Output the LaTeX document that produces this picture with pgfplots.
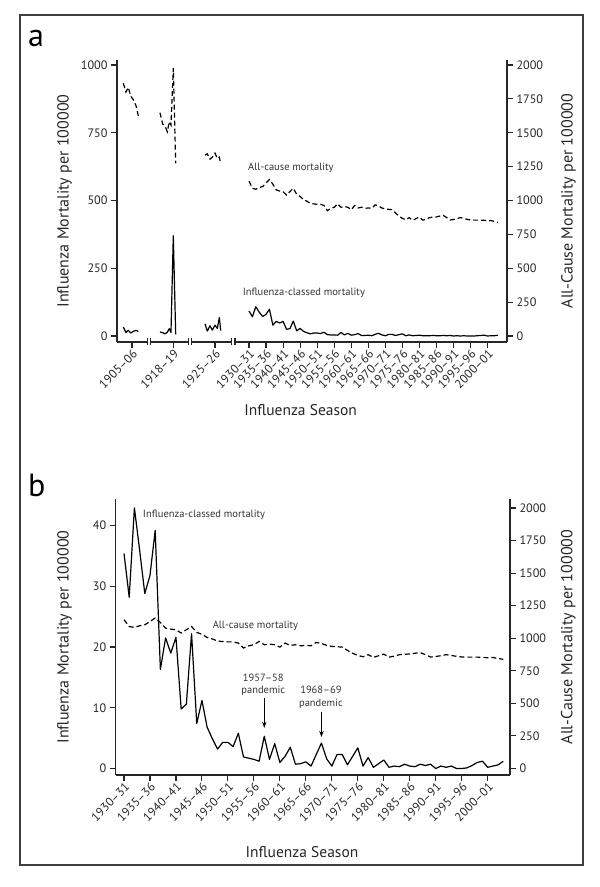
\documentclass[border=0pt]{standalone}
\usepackage{fontspec}
\setmainfont{PT Sans}
\usepackage{pgfplots}
\usepackage{pgfplotstable}
\usetikzlibrary{arrows.meta}
\pgfplotsset{compat=1.18}

% seasons 1930-31 .. 2003-04
% flu  = influenza-classed mortality as drawn in panel b
% flua = influenza-classed mortality as drawn in panel a
% allc = all-cause mortality (both panels)
\pgfplotstableread{
year flu flua allc
1930 35.4 92 1142
1931 28.2 71 1090
1932 42.9 108 1083
1933 36.0 88 1096
1934 28.8 72 1103
1935 31.8 80 1129
1936 39.2 99 1155
1937 16.3 40 1121
1938 21.5 54 1078
1939 19.0 48 1070
1940 21.6 54 1065
1941 9.8 25 1040
1942 10.6 27 1065
1943 22.2 55 1090
1944 7.4 19 1045
1945 11.2 28 1030
1946 6.8 17 1006
1947 4.9 12 995
1948 3.2 8 978
1949 4.3 11 975
1950 4.3 11 972
1951 3.6 9 972
1952 5.8 14 963
1953 1.9 5 925
1954 1.7 4 942
1955 1.5 4 950
1956 1.2 3 976
1957 5.3 13 950
1958 1.5 4 955
1959 4.1 10 950
1960 1.0 3 932
1961 2.0 5 963
1962 3.5 9 945
1963 0.7 2 950
1964 0.8 2 942
1965 1.1 3 945
1966 0.4 1 942
1967 2.3 6 968
1968 4.2 10 960
1969 1.6 4 945
1970 0.4 1 937
1971 2.3 6 935
1972 2.3 6 932
1973 0.6 2 907
1974 2.0 5 885
1975 3.4 8 868
1976 0.4 1 858
1977 1.8 4 874
1978 0.2 1 853
1979 0.8 2 866
1980 1.4 3 878
1981 0.2 1 855
1982 0.4 1 862
1983 0.3 1 874
1984 0.7 2 877
1985 0.4 1 879
1986 0.3 1 885
1987 0.7 2 890
1988 0.5 1 874
1989 0.7 2 856
1990 0.0 0 860
1991 0.4 1 866
1992 0.2 0 874
1993 0.4 1 868
1994 0.0 0 861
1995 0.0 0 856
1996 0.1 0 855
1997 0.5 1 855
1998 1.0 2 855
1999 1.2 3 854
2000 0.2 0 850
2001 0.4 1 852
2002 0.6 1 845
2003 1.2 3 838
}\mort

% panel a, early pieces of the broken axis (pos = place on the axis)
\pgfplotstableread{
pos flu allc
1893.12 33 1865
1893.91 13 1800
1894.58 21 1835
1895.29 11 1770
1896.05 17 1745
1896.84 21 1700
1897.52 17 1625
}\segone
\pgfplotstableread{
pos flu allc
1903.88 15 1648
1904.68 12 1565
1905.35 8 1550
1906.03 14 1508
1906.61 27 1582
1907.11 13 1557
1907.79 370 1976
1908.49 6 1275
}\segtwo
\pgfplotstableread{
pos flu allc
1917.09 45 1335
1917.76 18 1345
1918.56 38 1305
1919.23 22 1320
1920.02 40 1350
1920.70 28 1310
1921.29 68 1320
1921.70 20 1272
}\segthree

\newcommand\tickfont{\fontsize{12.2}{14}\selectfont}
\newcommand\titlefont{\fontsize{16}{18}\selectfont}
\newcommand\annfont{\fontsize{10.5}{12.5}\selectfont}

\pgfplotsset{
  panel/.style={
    scale only axis, clip=false,
    tick align=outside, major tick length=6pt,
    axis line style={line width=1.1pt, black!85},
    tick style={line width=1.1pt, black!85},
    ticklabel style={font=\tickfont, text=black!85},
    /pgf/number format/1000 sep={},
    /pgf/number format/assume math mode=true,
    label style={font=\titlefont, text=black!85, inner sep=0pt},
  },
  flu/.style={black, line width=1.2pt, line join=round},
  allc/.style={black, line width=1.2pt, dash pattern=on 5pt off 3pt},
}

\begin{document}
\begin{tikzpicture}
\useasboundingbox (0,0) rectangle (600pt,887pt);
\draw[line width=2pt, black!75] (20pt,22pt) rectangle (583pt,872pt);
\node[anchor=base west, inner sep=0, font=\fontsize{32}{34}\selectfont] at (28pt,840pt) {a};
\node[anchor=base west, inner sep=0, font=\fontsize{32}{34}\selectfont] at (28pt,390pt) {b};

% ---------------- panel a ----------------
\begin{axis}[panel,
  at={(117pt,545pt)}, anchor=south west, width=390pt, height=282pt,
  xmin=1891.27, xmax=2005.70, ymin=-22.1, ymax=1018.5,
  axis x line*=bottom, axis y line*=left,
  x axis line style={draw=none},
  xtick={1895.67,1907.79,1920.02,1930,1935,1940,1945,1950,1955,1960,1965,1970,1975,1980,1985,1990,1995,2000},
  xticklabels={1905--06,1918--19,1925--26,1930--31,1935--36,1940--41,1945--46,1950--51,1955--56,1960--61,1965--66,1970--71,1975--76,1980--81,1985--86,1990--91,1995--96,2000--01},
  xticklabel style={rotate=45, anchor=north east, inner sep=0.5pt},
  ytick={0,250,500,750,1000},
  xlabel={Influenza Season},
  xlabel style={at={(axis description cs:0.4708,-0.2411)}, anchor=center, font=\fontsize{15.5}{17}\selectfont},
  ylabel={Influenza Mortality per 100000},
  ylabel style={at={(axis description cs:-0.1154,0.5)}, anchor=south},
]
\addplot[flu] table[x=pos, y=flu] {\segone};
\addplot[flu] table[x=pos, y=flu] {\segtwo};
\addplot[flu] table[x=pos, y=flu] {\segthree};
\addplot[flu] table[x=year, y=flua] {\mort};
% broken x axis line
\draw[line width=1.1pt, black!85] (axis cs:1891.27,-22.1) -- (axis cs:1900.28,-22.1);
\draw[line width=1.1pt, black!85] (axis cs:1901.16,-22.1) -- (axis cs:1912.19,-22.1);
\draw[line width=1.1pt, black!85] (axis cs:1913.19,-22.1) -- (axis cs:1924.92,-22.1);
\draw[line width=1.1pt, black!85] (axis cs:1925.89,-22.1) -- (axis cs:2005.70,-22.1);
\pgfplotsinvokeforeach{1900.28,1901.16,1912.19,1913.19,1924.92,1925.89}{
  \draw[line width=1.1pt, black!85] (axis cs:#1,-22.1) +(0pt,-3.5pt) -- +(0pt,3.5pt);
}
\node[font=\annfont, text=black!80] at (axis cs:1942.3,620) {All-cause mortality};
\node[font=\annfont, text=black!80] at (axis cs:1946.1,158.7) {Influenza-classed mortality};
\end{axis}
\begin{axis}[panel,
  at={(117pt,545pt)}, anchor=south west, width=390pt, height=282pt,
  xmin=1891.27, xmax=2005.70, ymin=-44.3, ymax=2037,
  axis y line*=right, axis x line=none,
  ytick={0,250,500,750,1000,1250,1500,1750,2000},
  ylabel={All-Cause Mortality per 100000},
  ylabel style={at={(axis description cs:1.1385,0.5)}, anchor=north},
]
\addplot[allc] table[x=pos, y=allc] {\segone};
\addplot[allc] table[x=pos, y=allc] {\segtwo};
\addplot[allc] table[x=pos, y=allc] {\segthree};
\addplot[allc] table[x=year, y=allc] {\mort};
\end{axis}

% ---------------- panel b ----------------
\begin{axis}[panel,
  at={(115.7pt,112pt)}, anchor=south west, width=394.3pt, height=276pt,
  xmin=1928.40, xmax=2004.29, ymin=-1.07, ymax=44.37,
  axis x line*=bottom, axis y line*=left,
  xtick={1930,1935,1940,1945,1950,1955,1960,1965,1970,1975,1980,1985,1990,1995,2000},
  xticklabels={1930--31,1935--36,1940--41,1945--46,1950--51,1955--56,1960--61,1965--66,1970--71,1975--76,1980--81,1985--86,1990--91,1995--96,2000--01},
  xticklabel style={rotate=45, anchor=north east, inner sep=0.5pt},
  ytick={0,10,20,30,40},
  xlabel={Influenza Season},
  xlabel style={at={(axis description cs:0.4725,-0.279)}, anchor=center, font=\fontsize{15.5}{17}\selectfont},
  ylabel={Influenza Mortality per 100000},
  ylabel style={at={(axis description cs:-0.1108,0.5)}, anchor=south},
]
\addplot[flu] table[x=year, y=flu] {\mort};
\node[font=\annfont, text=black!80] at (axis cs:1945.4,41.7) {Influenza-classed mortality};
\node[font=\annfont, text=black!80] at (axis cs:1955.3,23.5) {All-cause mortality};
\node[font=\annfont, text=black!80, align=center] at (axis cs:1956.8,13.75) {1957--58\\pandemic};
\node[font=\annfont, text=black!80, align=center] at (axis cs:1967.9,11.7) {1968--69\\pandemic};
\draw[-{Stealth[length=6pt,width=4.5pt]}, line width=1pt] (axis cs:1957,11.6) -- (axis cs:1957,6.7);
\draw[-{Stealth[length=6pt,width=4.5pt]}, line width=1pt] (axis cs:1968,9.35) -- (axis cs:1968,5.2);
\end{axis}
\begin{axis}[panel,
  at={(115.7pt,112pt)}, anchor=south west, width=394.3pt, height=276pt,
  xmin=1928.40, xmax=2004.29, ymin=-49.8, ymax=2069,
  axis y line*=right, axis x line=none,
  ytick={0,250,500,750,1000,1250,1500,1750,2000},
  ylabel={All-Cause Mortality per 100000},
  ylabel style={at={(axis description cs:1.129,0.5)}, anchor=north},
]
\addplot[allc] table[x=year, y=allc] {\mort};
\end{axis}
\end{tikzpicture}
\end{document}
